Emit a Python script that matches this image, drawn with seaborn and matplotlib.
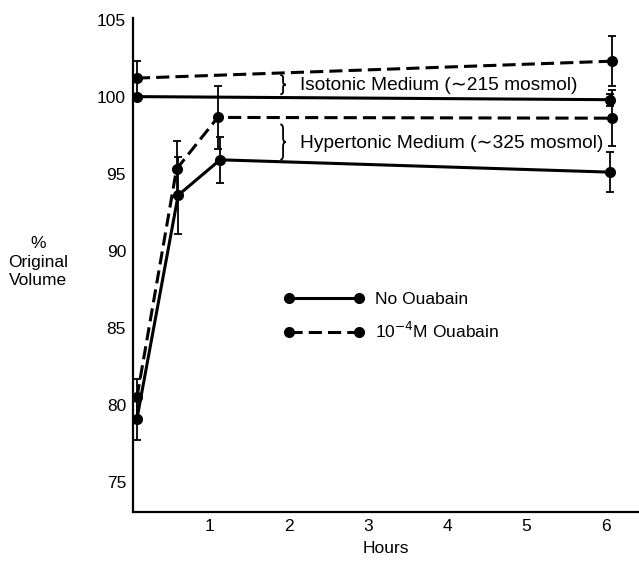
import matplotlib
matplotlib.use("Agg")
import matplotlib.pyplot as plt
from matplotlib.path import Path
from matplotlib.patches import PathPatch
from matplotlib.lines import Line2D
import seaborn as sns
import pandas as pd

# ---- data ----
iso_no_t = [0.08, 6.05]
iso_no_v = [100.0, 99.8]
iso_no_e = [0.0, 0.4]

hyp_no_t = [0.08, 0.60, 1.13, 6.05]
hyp_no_v = [79.1, 93.6, 95.9, 95.1]
hyp_no_e = [1.4, 2.5, 1.5, 1.3]

iso_oua_t = [0.08, 6.08]
iso_oua_v = [101.2, 102.3]
iso_oua_e = [1.1, 1.6]

hyp_oua_t = [0.08, 0.58, 1.10, 6.08]
hyp_oua_v = [80.5, 95.3, 98.65, 98.6]
hyp_oua_e = [1.2, 1.8, 2.05, 1.8]

y_ticks = [75, 80, 85, 90, 95, 100, 105]
x_ticks = [1, 2, 3, 4, 5, 6]
legend_labels = ["No Ouabain", "10$^{-4}$M Ouabain"]
iso_text = "Isotonic Medium (\u223c215 mosmol)"
hyp_text = "Hypertonic Medium (\u223c325 mosmol)"

rows = []
for name, treat, ts, vs in [("iso_no", "No", iso_no_t, iso_no_v),
                            ("hyp_no", "No", hyp_no_t, hyp_no_v),
                            ("iso_oua", "Oua", iso_oua_t, iso_oua_v),
                            ("hyp_oua", "Oua", hyp_oua_t, hyp_oua_v)]:
    for t, v in zip(ts, vs):
        rows.append({"series": name, "treatment": treat, "time": t, "vol": v})
df = pd.DataFrame(rows)

sns.set_style("white")
plt.rcParams["font.family"] = ["Liberation Sans", "DejaVu Sans"]
plt.rcParams["text.color"] = "black"
plt.rcParams["axes.labelcolor"] = "black"
FS = 12.5
FS_ANN = 13.8

fig = plt.figure(figsize=(6.39, 5.67), dpi=100)
ax = fig.add_axes([133 / 639, 1 - 512 / 567, 1 - 133 / 639, (512 - 18) / 567])

LW = 2.2
DASH = (4.3, 2.0)
MS = 8
sns.lineplot(data=df, x="time", y="vol", units="series", style="treatment",
             estimator=None, sort=False, color="black",
             markers={"No": "o", "Oua": "o"},
             dashes={"No": "", "Oua": DASH},
             markersize=MS, markeredgewidth=0, linewidth=LW,
             legend=False, ax=ax)

for ts, vs, es in [(iso_no_t, iso_no_v, iso_no_e), (hyp_no_t, hyp_no_v, hyp_no_e),
                   (iso_oua_t, iso_oua_v, iso_oua_e), (hyp_oua_t, hyp_oua_v, hyp_oua_e)]:
    ax.errorbar(ts, vs, yerr=es, fmt="none", ecolor="black", elinewidth=1.3,
                capsize=3, capthick=1.3)

ax.set_xlim(0.03, 6.42)
ax.set_ylim(73.05, 105.1)
ax.set_yticks(y_ticks)
ax.set_xticks(x_ticks)
ax.tick_params(axis="both", direction="in", length=7, width=1.4,
               labelsize=FS, colors="black", pad=5)
for s in ["top", "right"]:
    ax.spines[s].set_visible(False)
for s in ["left", "bottom"]:
    ax.spines[s].set_linewidth(1.6)
    ax.spines[s].set_color("black")
ax.set_xlabel("Hours", fontsize=FS, labelpad=5)
ax.set_ylabel("")
fig.text(38 / 639, 1 - 262 / 567, "%\nOriginal\nVolume", ha="center", va="center",
         multialignment="center", fontsize=FS, linespacing=1.3)


def brace(x, ylo, yhi, w):
    ym = (ylo + yhi) / 2
    q = (yhi - ylo) * 0.12
    verts = [(x, yhi), (x + w / 2, yhi), (x + w / 2, yhi - q),
             (x + w / 2, ym + q),
             (x + w / 2, ym), (x + w, ym),
             (x + w / 2, ym), (x + w / 2, ym - q),
             (x + w / 2, ylo + q),
             (x + w / 2, ylo), (x, ylo)]
    codes = [Path.MOVETO, Path.CURVE3, Path.CURVE3, Path.LINETO,
             Path.CURVE3, Path.CURVE3, Path.CURVE3, Path.CURVE3,
             Path.LINETO, Path.CURVE3, Path.CURVE3]
    ax.add_patch(PathPatch(Path(verts, codes), fill=False, lw=1.3, color="black"))


brace(1.89, 100.15, 101.4, 0.07)
brace(1.89, 95.9, 98.2, 0.07)
ax.text(2.14, 100.72, iso_text, fontsize=FS_ANN, va="center", ha="left")
ax.text(2.14, 96.95, hyp_text, fontsize=FS_ANN, va="center", ha="left")

handles = [Line2D([], [], color="black", lw=LW, marker="o", markersize=MS, markeredgewidth=0),
           Line2D([], [], color="black", lw=LW, marker="o", markersize=MS, markeredgewidth=0,
                  dashes=DASH)]
ax.legend(handles, legend_labels, loc="upper left",
          bbox_to_anchor=(284 / 639, 1 - 292 / 567), bbox_transform=fig.transFigure,
          frameon=False, numpoints=2, handlelength=4.62, handletextpad=0.6,
          labelspacing=0.8, borderpad=0, borderaxespad=0, fontsize=FS)

fig.savefig("out.png", dpi=100)
